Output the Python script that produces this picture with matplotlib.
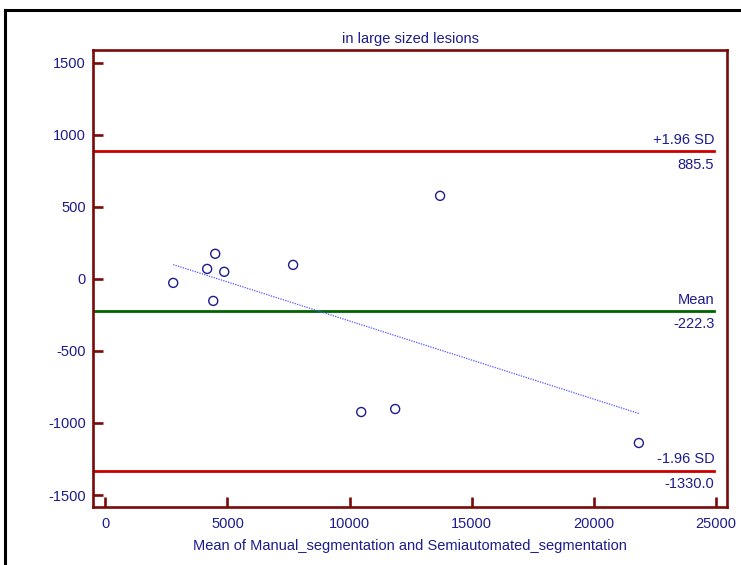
import numpy as np
import matplotlib
matplotlib.use("Agg")
import matplotlib.pyplot as plt
from matplotlib.lines import Line2D

plt.rcParams['font.family'] = ['Liberation Sans', 'DejaVu Sans']
plt.rcParams['axes.unicode_minus'] = False

# Data
mean_vals = [2780, 4170, 4500, 4870, 4420, 7690, 13710, 10480, 11870, 21850]
diff_vals = [-28, 69, 174, 49, -153, 97, 576, -924, -903, -1139]
mean_diff = -222.3
upper_loa = 885.5
lower_loa = -1330.0
x_ticks = [0, 5000, 10000, 15000, 20000, 25000]
y_ticks = [-1500, -1000, -500, 0, 500, 1000, 1500]
title = "in large sized lesions"
xlabel = "Mean of Manual_segmentation and Semiautomated_segmentation"

navy = "#1c1c8c"
maroon = "#7a0a0a"
red = "#cc0000"
green = "#006400"

fig = plt.figure(figsize=(7.41, 5.65), dpi=100)
ax = fig.add_axes([93/741, 1 - 507/565, (727-93)/741, (507-50)/565])

ax.set_xlim(-505, 25460)
ax.set_ylim(-1583, 1588)

# limit lines
line_end = 0.98
for val, col in [(upper_loa, red), (mean_diff, green), (lower_loa, red)]:
    ax.axhline(val, xmin=0, xmax=line_end, color=col, lw=2.0, zorder=2)

xr = ax.get_xlim()
xt = xr[0] + line_end * (xr[1] - xr[0])
fs = 10.5
up, dn = 30, 45
ax.text(xt, upper_loa + up, "+1.96 SD", ha='right', va='bottom', color=navy, fontsize=fs)
ax.text(xt, upper_loa - dn, f"{upper_loa:.1f}", ha='right', va='top', color=navy, fontsize=fs)
ax.text(xt, mean_diff + up, "Mean", ha='right', va='bottom', color=navy, fontsize=fs)
ax.text(xt, mean_diff - dn, f"{mean_diff:.1f}", ha='right', va='top', color=navy, fontsize=fs)
ax.text(xt, lower_loa + up, "-1.96 SD", ha='right', va='bottom', color=navy, fontsize=fs)
ax.text(xt, lower_loa - dn, f"{lower_loa:.1f}", ha='right', va='top', color=navy, fontsize=fs)

# regression line
x = np.array(mean_vals, dtype=float)
y = np.array(diff_vals, dtype=float)
b, a = np.polyfit(x, y, 1)
xs = np.array([x.min(), x.max()])
ax.plot(xs, a + b * xs, ls=(0, (1, 1)), color="#5555ff", lw=0.9, zorder=3)

ax.scatter(x, y, s=42, facecolors='none', edgecolors=navy, linewidths=1.0, zorder=4)

for s in ax.spines.values():
    s.set_color(maroon)
    s.set_linewidth(1.9)

ax.set_xticks(x_ticks)
ax.set_yticks(y_ticks)
ax.tick_params(axis='both', direction='in', length=7, width=1.9, color=maroon,
               labelcolor=navy, labelsize=fs)
ax.tick_params(axis='y', pad=5)
ax.tick_params(axis='x', pad=7)

ax.set_title(title, color=navy, fontsize=fs, pad=5)
ax.set_xlabel(xlabel, color=navy, fontsize=fs, labelpad=6)

# outer black frame (partially clipped)
fig.add_artist(Line2D([5/741, 1.0], [1 - 10/565, 1 - 10/565], color='black', lw=2.2,
                      transform=fig.transFigure))
fig.add_artist(Line2D([5/741, 5/741], [0, 1 - 10/565], color='black', lw=2.2,
                      transform=fig.transFigure))

fig.savefig("out.png", dpi=100)
